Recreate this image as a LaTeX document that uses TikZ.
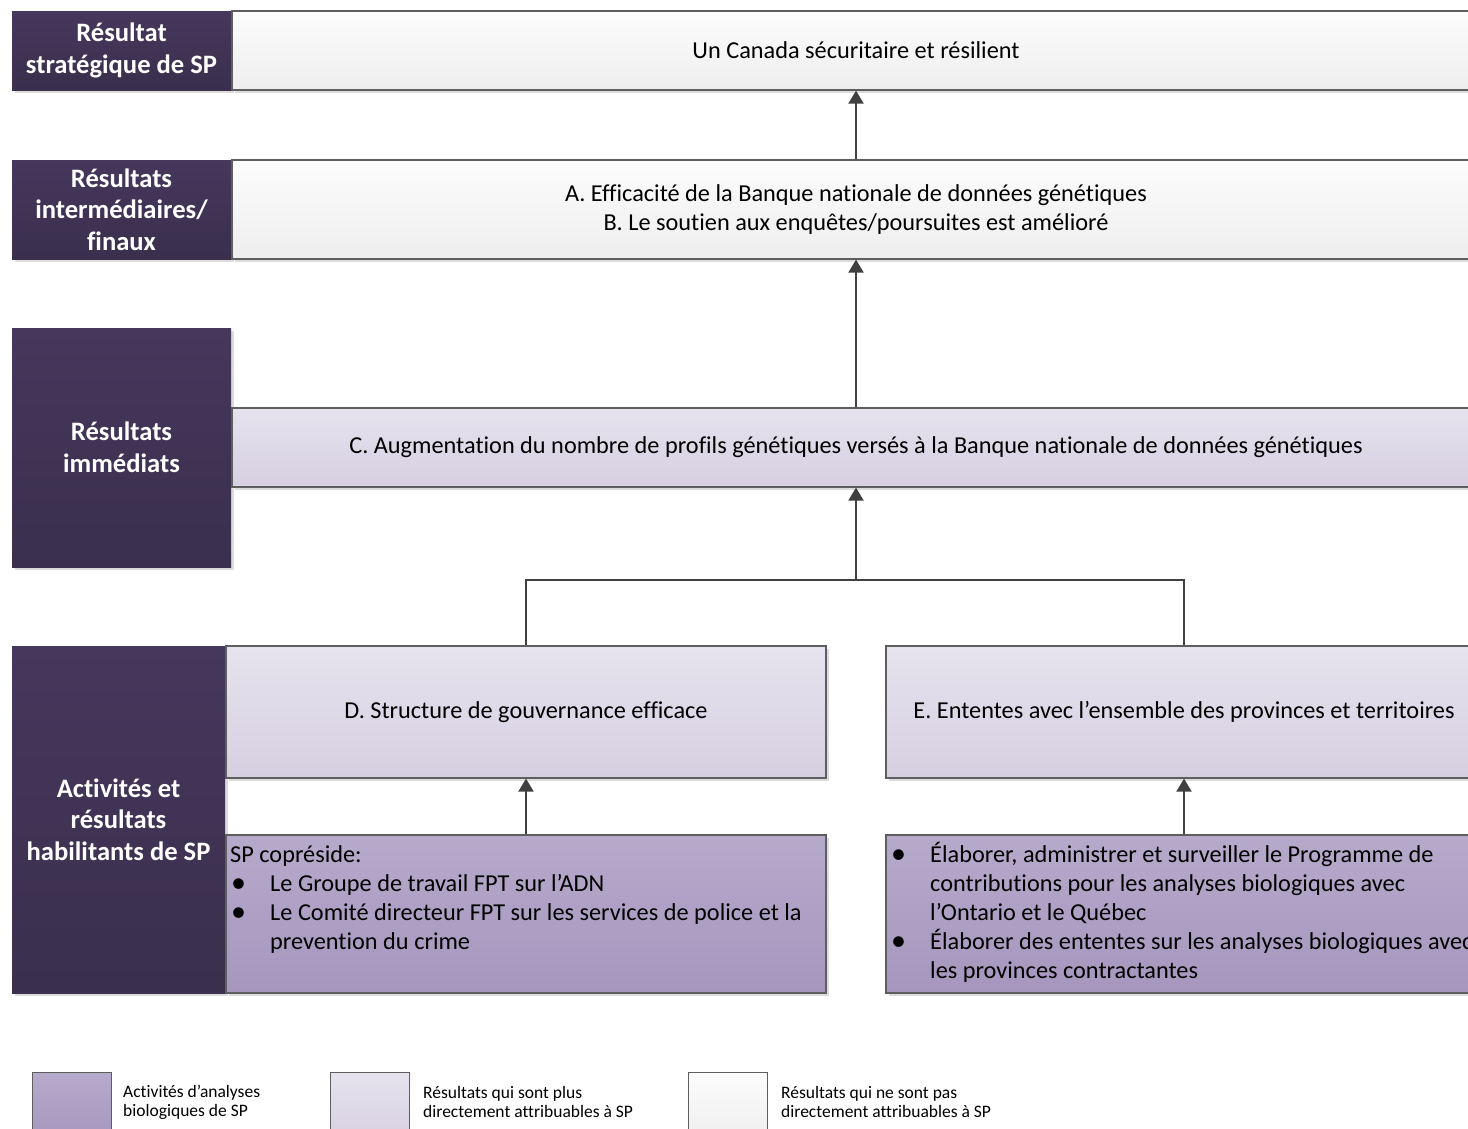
\documentclass[tikz,border=0pt]{standalone}
\usepackage{fontspec}
\setmainfont{Carlito}[Ligatures=NoCommon]
\usetikzlibrary{arrows.meta}
\definecolor{hdtop}{HTML}{46375C}
\definecolor{hdbot}{HTML}{3A2F4D}
\definecolor{wtop}{HTML}{FCFCFC}
\definecolor{wbot}{HTML}{EEEEEE}
\definecolor{ltop}{HTML}{E6E3EE}
\definecolor{lbot}{HTML}{D6CFE1}
\definecolor{atop}{HTML}{B6AACB}
\definecolor{abot}{HTML}{A696BE}
\definecolor{bordc}{HTML}{5E5E5E}
\definecolor{arrc}{HTML}{404040}
\definecolor{shd}{HTML}{DCDCDC}
\newcommand{\bul}{\makebox[40pt][l]{\hspace{1pt}\raisebox{-1pt}{\fontsize{30}{29}\selectfont •}}}
\tikzset{
  box/.style={rectangle, inner sep=0pt, draw=bordc, line width=1.2pt, font=\fontsize{24.3}{29}\selectfont, align=center},
  hdbox/.style={rectangle, inner sep=0pt, top color=hdtop, bottom color=hdbot, draw=none, text=white, align=center, font=\fontsize{26.6}{31.5}\selectfont\bfseries},
  whitebox/.style={box, top color=wtop, bottom color=wbot},
  lightbox/.style={box, top color=ltop, bottom color=lbot},
  actbox/.style={box, top color=atop, bottom color=abot},
  linetxt/.style={anchor=base west, inner sep=0pt, font=\fontsize{24.3}{29}\selectfont},
  legtxt/.style={anchor=west, inner sep=0pt, align=left, font=\fontsize{17.5}{19}\selectfont},
  conn/.style={draw=arrc, line width=2pt},
  arr/.style={conn, -{Triangle[length=13pt,width=15pt]}},
}
\begin{document}
\begin{tikzpicture}[x=1pt,y=-1pt]
\clip (0,0) rectangle (1468,1128);
\fill[white] (0,0) rectangle (1468,1128);
% shadows
\fill[shd] (15,14) rectangle (234,93);
\fill[shd] (235,14) rectangle (1483,93);
\fill[shd] (15,163) rectangle (234,262);
\fill[shd] (235,163) rectangle (1483,262);
\fill[shd] (15,331) rectangle (234,570);
\fill[shd] (235,411) rectangle (1483,490);
\fill[shd] (15,649) rectangle (228,996);
\fill[shd] (229,649) rectangle (829,781);
\fill[shd] (229,838) rectangle (829,996);
\fill[shd] (889,649) rectangle (1485,781);
\fill[shd] (889,838) rectangle (1485,996);
% header column
\node[hdbox, minimum width=219pt, minimum height=79pt] (h1) at (121.5,50.5) {Résultat\\stratégique de SP};
\node[hdbox, minimum width=219pt, minimum height=99pt] (h2) at (121.5,209.5) {Résultats\\intermédiaires/\\finaux};
\node[hdbox, minimum width=219pt, minimum height=239pt] (h3) at (121.5,447.5) {Résultats\\immédiats};
\node[hdbox, minimum width=213pt, minimum height=347pt] (h4) at (118.5,819.5) {Activités et\\résultats\\habilitants de SP};
% result boxes
\node[whitebox, minimum width=1248pt, minimum height=79pt] (top) at (856,50.5) {Un Canada sécuritaire et résilient};
\node[whitebox, minimum width=1248pt, minimum height=99pt] (mid) at (856,209.5) {A. Efficacité de la Banque nationale de données génétiques\\B. Le soutien aux enquêtes/poursuites est amélioré};
\node[lightbox, minimum width=1248pt, minimum height=79pt] (imm) at (856,447.5) {C. Augmentation du nombre de profils génétiques versés à la Banque nationale de données génétiques};
\node[lightbox, minimum width=600pt, minimum height=132pt] (D) at (526,712) {D. Structure de gouvernance efficace};
\node[lightbox, minimum width=596pt, minimum height=132pt] (E) at (1184,712) {E. Ententes avec l’ensemble des provinces et territoires};
\node[actbox, minimum width=600pt, minimum height=158pt] (Da) at (526,914) {};
\node[actbox, minimum width=596pt, minimum height=158pt] (Ea) at (1184,914) {};
% activity texts
\node[linetxt] (d1) at (230,862) {SP copréside:};
\node[linetxt] (d2) at (230,891) {\bul Le Groupe de travail FPT sur l’ADN};
\node[linetxt] (d3) at (230,920) {\bul Le Comité directeur FPT sur les services de police et la};
\node[linetxt] (d4) at (270,949) {prevention du crime};
\node[linetxt] (e1) at (890,862) {\bul Élaborer, administrer et surveiller le Programme de};
\node[linetxt] (e2) at (930,891) {contributions pour les analyses biologiques avec};
\node[linetxt] (e3) at (930,920) {l’Ontario et le Québec};
\node[linetxt] (e4) at (890,949) {\bul Élaborer des ententes sur les analyses biologiques avec};
\node[linetxt] (e5) at (930,978) {les provinces contractantes};
% connectors
\draw[arr] (mid.north) -- (top.south);
\draw[arr] (imm.north) -- (mid.south);
\coordinate (j) at (856,580);
\draw[conn] (D.north) |- (j) -| (E.north);
\draw[arr] (j) -- (imm.south);
\draw[arr] (Da.north) -- (D.south);
\draw[arr] (Ea.north) -- (E.south);
% legend
\node[actbox, line width=0.8pt, minimum width=79pt, minimum height=70pt] (l1) at (71.5,1107) {};
\node[lightbox, line width=0.8pt, minimum width=79pt, minimum height=70pt] (l2) at (369.5,1107) {};
\node[whitebox, line width=0.8pt, minimum width=79pt, minimum height=70pt] (l3) at (727.5,1107) {};
\node[legtxt] (t1) at (123,1102) {Activités d’analyses\\biologiques de SP};
\node[legtxt] (t2) at (423,1102) {Résultats qui sont plus\\directement attribuables à SP};
\node[legtxt] (t3) at (781,1102) {Résultats qui ne sont pas\\directement attribuables à SP};
\end{tikzpicture}
\end{document}
